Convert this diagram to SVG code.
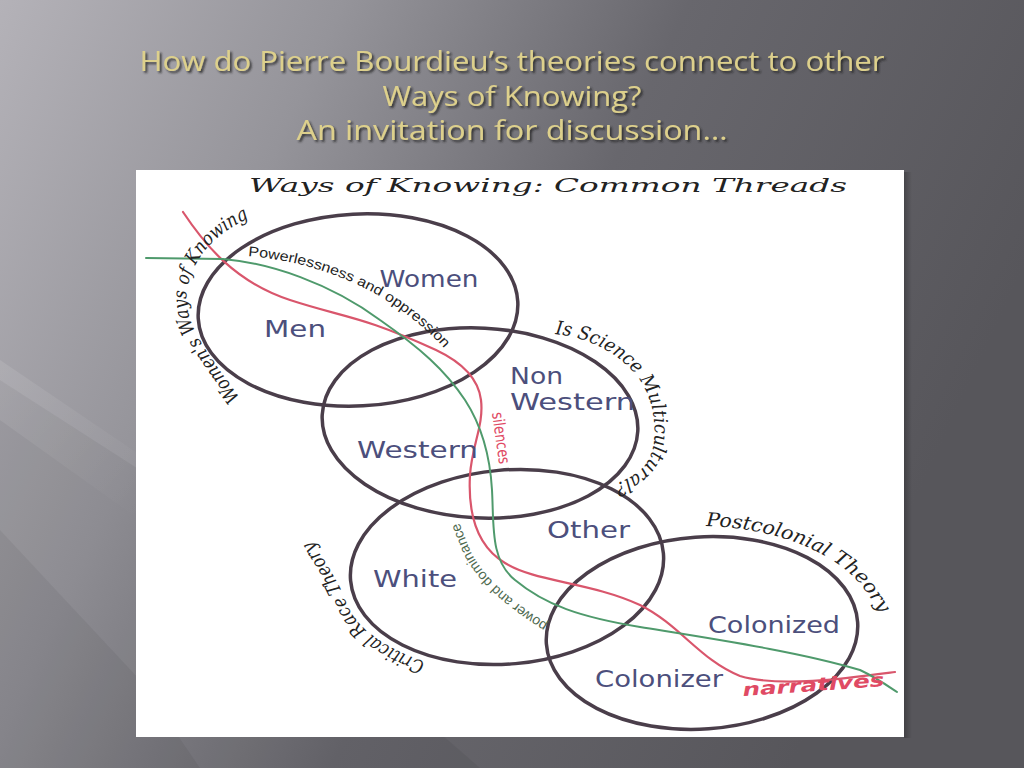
<svg xmlns="http://www.w3.org/2000/svg" width="1024" height="768" viewBox="0 0 1024 768">
<defs>
<linearGradient id="bg" x1="0" y1="0" x2="1" y2="0.35">
<stop offset="0" stop-color="#b4b2b8"/>
<stop offset="0.3" stop-color="#95949a"/>
<stop offset="0.6" stop-color="#68676d"/>
<stop offset="1" stop-color="#57565b"/>
</linearGradient>
<linearGradient id="streak" x1="0" y1="0" x2="1" y2="1">
<stop offset="0" stop-color="#ffffff" stop-opacity="0.10"/>
<stop offset="1" stop-color="#ffffff" stop-opacity="0"/>
</linearGradient>
<linearGradient id="shadowR" x1="0" y1="0" x2="1" y2="0">
<stop offset="0" stop-color="#000" stop-opacity="0.25"/>
<stop offset="1" stop-color="#000" stop-opacity="0"/>
</linearGradient>
<filter id="ts" x="-5%" y="-30%" width="110%" height="160%">
<feDropShadow dx="2" dy="2" stdDeviation="1.2" flood-color="#222" flood-opacity="0.8"/>
</filter>
<path id="pWomen" d="M 240,398 C 205,350 180,320 188,285 S 225,226 264,212"/>
<path id="pPower" d="M 248,256 C 320,262 380,290 420,325 S 445,355 448,362"/>
<path id="pScience" d="M 555,334 C 610,340 650,375 654,420 S 640,475 605,488"/>
<path id="pDom" d="M 548,624 C 510,600 480,575 468,545 S 458,518 457,510"/>
<path id="pCrit" d="M 425,662 C 385,648 355,628 345,600 S 318,555 308,532"/>
<path id="pPost" d="M 706,526 C 780,528 840,555 865,590 S 878,615 882,628"/>
</defs>
<style>
.title{font-family:"Open Sans","Liberation Sans",sans-serif;font-size:28px;fill:#ddd08c;text-anchor:middle;filter:url(#ts)}
.circ{fill:none;stroke:#4a3e4a;stroke-width:3.5}
.lab{font-family:"DejaVu Sans","Liberation Sans",sans-serif;font-size:23px;fill:#4c4f7c}
.hand{font-family:"DejaVu Serif","Liberation Serif",serif;font-style:italic;font-size:19px;fill:#222}
.small{font-family:"Liberation Sans","DejaVu Sans",sans-serif;font-size:14px;fill:#222}
.red{fill:none;stroke:#d9566c;stroke-width:2.2;stroke-linejoin:round;stroke-linecap:round}
.green{fill:none;stroke:#4f9a6c;stroke-width:2;stroke-linejoin:round;stroke-linecap:round}
</style>
<rect x="0" y="0" width="1024" height="768" fill="url(#bg)"/>
<polygon points="0,380 140,470 480,768 0,768" fill="#000" opacity="0.05"/>
<polygon points="0,530 140,680 200,768 0,768" fill="#000" opacity="0.05"/>
<polygon points="0,360 140,455 140,520 0,420" fill="url(#streak)"/>
<text class="title" x="512" y="71" textLength="745" lengthAdjust="spacingAndGlyphs">How do Pierre Bourdieu’s theories connect to other</text>
<text class="title" x="512" y="106" textLength="259" lengthAdjust="spacingAndGlyphs">Ways of Knowing?</text>
<text class="title" x="512" y="140" textLength="431" lengthAdjust="spacingAndGlyphs">An invitation for discussion…</text>
<rect x="904" y="172" width="8" height="566" fill="url(#shadowR)"/>
<rect id="panel" x="136" y="170" width="768" height="567" fill="#ffffff"/>
<text class="hand" x="249" y="192" font-size="24" textLength="598" lengthAdjust="spacingAndGlyphs">Ways of Knowing:  Common Threads</text>
<g id="circles">
<g id="c1"><ellipse class="circ" cx="358" cy="310" rx="160" ry="96" transform="rotate(-3 358 310)"/></g>
<g id="c2"><ellipse class="circ" cx="480" cy="423" rx="158" ry="95" transform="rotate(3 480 423)"/></g>
<g id="c3"><ellipse class="circ" cx="507" cy="567" rx="157" ry="97" transform="rotate(-5 507 567)"/></g>
<g id="c4"><ellipse class="circ" cx="702" cy="633" rx="156" ry="96" transform="rotate(-4 702 633)"/></g>
</g>
<g id="threads">
<path class="red" d="M183,212 C205,245 235,282 290,300 C345,318 360,315 436,350 C455,359 478,375 481,400 C484,425 472,445 470,475 C468,510 475,545 505,563 C535,582 590,582 640,605 C680,625 700,660 740,676 C780,688 850,678 895,672"/>
<path class="green" d="M146,258 L223,259 C270,263 330,283 380,320 C420,348 445,370 465,400 C480,423 490,455 492,490 C494,525 490,560 515,580 C545,605 580,617 640,627 C720,640 800,652 860,670 C875,677 885,684 897,692"/>
</g>
<g id="labels">
<text class="lab" x="429" y="287" text-anchor="middle" textLength="99" lengthAdjust="spacingAndGlyphs">Women</text>
<text class="lab" x="295" y="337" text-anchor="middle" textLength="62" lengthAdjust="spacingAndGlyphs">Men</text>
<text class="lab" x="510" y="384" textLength="53" lengthAdjust="spacingAndGlyphs">Non</text>
<text class="lab" x="510" y="410" textLength="125" lengthAdjust="spacingAndGlyphs">Western</text>
<text class="lab" x="357" y="458" textLength="121" lengthAdjust="spacingAndGlyphs">Western</text>
<text class="lab" x="547" y="538" textLength="83" lengthAdjust="spacingAndGlyphs">Other</text>
<text class="lab" x="373" y="587" textLength="84" lengthAdjust="spacingAndGlyphs">White</text>
<text class="lab" x="708" y="633" textLength="132" lengthAdjust="spacingAndGlyphs">Colonized</text>
<text class="lab" x="595" y="687" textLength="128" lengthAdjust="spacingAndGlyphs">Colonizer</text>
</g>
<g id="curved">
<text class="hand"><textPath href="#pWomen" textLength="222" lengthAdjust="spacingAndGlyphs">Women's Ways of Knowing</textPath></text>
<text class="small"><textPath href="#pPower" textLength="222" lengthAdjust="spacingAndGlyphs">Powerlessness and oppression</textPath></text>
<text class="hand"><textPath href="#pScience" textLength="226" lengthAdjust="spacingAndGlyphs">Is Science Multicultural?</textPath></text>
<text class="small" style="fill:#4f6a50"><textPath href="#pDom" textLength="138" lengthAdjust="spacingAndGlyphs">power and dominance</textPath></text>
<text class="hand"><textPath href="#pCrit" textLength="172" lengthAdjust="spacingAndGlyphs">Critical Race Theory</textPath></text>
<text class="hand"><textPath href="#pPost" textLength="205" lengthAdjust="spacingAndGlyphs">Postcolonial Theory</textPath></text>
<text font-family="DejaVu Sans, sans-serif" font-size="16" fill="#e04a64" transform="translate(492,413) rotate(82)" textLength="52" lengthAdjust="spacingAndGlyphs">silences</text>
<text font-family="DejaVu Sans, sans-serif" font-size="18" font-weight="bold" font-style="italic" fill="#e04a64" transform="translate(743,696) rotate(-4)" textLength="142" lengthAdjust="spacingAndGlyphs">narratives</text>
</g>
</svg>
